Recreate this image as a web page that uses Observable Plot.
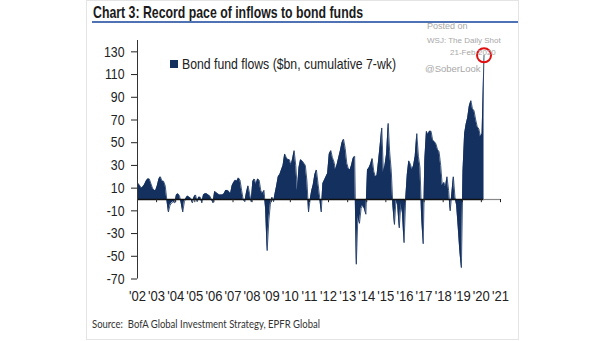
<!DOCTYPE html>
<html>
<head>
<meta charset="utf-8">
<script src="https://cdn.jsdelivr.net/npm/d3@7"></script>
<script src="https://cdn.jsdelivr.net/npm/@observablehq/plot@0.6"></script>
<style>
  html, body { margin: 0; padding: 0; background: #fff; }
  #wrap { position: relative; width: 605px; height: 341px; overflow: hidden; font-family: "Liberation Sans", Arial, sans-serif; }
  #chart { position: absolute; left: 0; top: 0; }
  .abs { position: absolute; white-space: nowrap; }
  .fit { transform-origin: 0 50%; }
  #frame { left: 86px; top: 0px; width: 431px; height: 338px; border: 1px solid #e4e4e4; }
  #title { left: 93px; top: 3px; font-weight: bold; font-size: 17px; line-height: 19px; color: #1b1b1b; }
  #rule { left: 92px; top: 21px; width: 426px; height: 2px; background: #4f72b5; }
  .wm { color: #a8a8a8; }
  #legend { left: 170px; top: 56px; font-size: 14.5px; line-height: 16px; color: #222; }
  #legend .sw { position: absolute; left: 0; top: 4px; width: 8px; height: 8px; background: #13305f; }
  #legtext { left: 12px; top: 0; }
  #source { left: 92px; top: 318px; font-family: Lato, "Open Sans", sans-serif; font-size: 10.5px; line-height: 13px; color: #333; }
</style>
</head>
<body>
<div id="wrap">
  <div id="frame" class="abs"></div>
  <div id="chart"></div>
  <div id="title" class="abs fit" data-w="270">Chart 3: Record pace of inflows to bond funds</div>
  <div id="rule" class="abs"></div>
  <div class="abs wm" style="left:427px;top:21px;font-size:9px;">Posted on</div>
  <div class="abs wm" style="left:427px;top:36px;font-size:8px;">WSJ: The Daily Shot</div>
  <div class="abs wm" style="left:450px;top:48px;font-size:8px;">21-Feb-2020</div>
  <div class="abs wm" style="left:425px;top:63px;font-size:9.5px;">@SoberLook</div>
  <div id="legend" class="abs"><span class="sw"></span><div id="legtext" class="abs fit" data-w="214">Bond fund flows ($bn, cumulative 7-wk)</div></div>
  <div id="source" class="abs fit" data-w="228">Source:&nbsp; BofA Global Investment Strategy, EPFR Global</div>
</div>
<script>
// Monthly readings of the cumulative 7-week bond fund flows ($bn), Jan..Dec
const years = [2002, 2003, 2004, 2005, 2006, 2007, 2008, 2009, 2010, 2011,
               2012, 2013, 2014, 2015, 2016, 2017, 2018, 2019, 2020];
const flows2002 = [14, 12, 10, 11, 13, 16, 18, 18, 14, 10, 8, 8];
const flows2003 = [12, 18, 20, 16, 16, 12, 0, -11, -5, -3, -2, -3];
const flows2004 = [4, 5, 3, -3, -11, -2, 1, 3, 2, 1, -3, 2];
const flows2005 = [4, -2, 2, 2, -3, 4, 5, 5, 4, 3, 0, -3];
const flows2006 = [7, 6, 5, 4, 4, 4, 5, 8, 8, 7, 5, 12];
const flows2007 = [15, 17, 16, 19, 17, 8, 0, -2, 6, 12, 5, -2];
const flows2008 = [16, 18, 13, 18, 17, 8, 5, 8, -8, -45, -19, -4];
const flows2009 = [2, -2, 5, 12, 20, 22, 26, 30, 40, 37, 35, 35];
const flows2010 = [30, 36, 43, 30, 8, 28, 35, 34, 32, 30, 16, -11];
const flows2011 = [0, 8, 13, 22, 26, 14, 2, -11, 14, 17, 20, 23];
const flows2012 = [40, 43, 37, 33, 26, 31, 37, 43, 50, 53, 45, 32];
const flows2013 = [27, 26, 30, 36, 38, -57, -15, -21, -8, -5, -8, -13];
const flows2014 = [26, 28, 31, 36, 25, 20, 21, 34, 48, 63, 24, 30];
const flows2015 = [40, 67, 42, 25, -5, -22, 0, -5, -25, -3, -12, -38];
const flows2016 = [0, 22, 34, 31, 26, 30, 38, 58, 38, 28, -15, -39];
const flows2017 = [35, 60, 57, 60, 60, 52, 51, 49, 44, 42, 30, 12];
const flows2018 = [15, 11, 20, 8, -10, 5, 20, 2, -5, -24, -45, -60];
const flows2019 = [25, 58, 66, 72, 82, 87, 80, 78, 70, 64, 62, 55];
const flows2020 = [58];
const flowsByYear = [flows2002, flows2003, flows2004, flows2005, flows2006, flows2007,
  flows2008, flows2009, flows2010, flows2011, flows2012, flows2013, flows2014,
  flows2015, flows2016, flows2017, flows2018, flows2019, flows2020];
// Last reading: week to 21 Feb 2020
const lastReading = {date: "2020-02-21", value: 127};
const yTicks = [-70, -50, -30, -10, 10, 30, 50, 70, 90, 110, 130];
const xTickYears = [2002, 2003, 2004, 2005, 2006, 2007, 2008, 2009, 2010, 2011,
  2012, 2013, 2014, 2015, 2016, 2017, 2018, 2019, 2020, 2021];

const data = [];
years.forEach((y, i) => {
  flowsByYear[i].forEach((v, m) => data.push({date: new Date(Date.UTC(y, m, 15)), value: v}));
});
const last = {date: new Date(lastReading.date + "T00:00:00Z"), value: lastReading.value};
data.push(last);

const yearDate = y => new Date(Date.UTC(y, 0, 1));
const xStart = yearDate(xTickYears[0]);
const xEnd = yearDate(xTickYears[xTickYears.length - 1]);
const navy = "#13305f";

const chart = Plot.plot({
  width: 605,
  height: 341,
  marginLeft: 137,
  marginRight: 105,
  marginTop: 40,
  marginBottom: 62.5,
  style: {fontFamily: '"Liberation Sans", Arial, sans-serif', fontSize: "14.5px", color: "#222", background: "transparent"},
  x: {type: "utc", domain: [xStart, xEnd]},
  y: {domain: [-70, 140]},
  marks: [
    Plot.areaY(data, {x: "date", y: "value", fill: navy, curve: "linear"}),
    Plot.lineY(data, {x: "date", y: "value", stroke: navy, strokeWidth: 0.8, curve: "linear"}),
    Plot.ruleY([0], {x1: xStart, x2: last.date, stroke: "#111", strokeWidth: 1.6}),
    Plot.ruleY([0], {x1: last.date, x2: xEnd, stroke: "#888", strokeWidth: 1.2}),
    Plot.ruleX(xTickYears.map(yearDate), {y1: 0, y2: -2.8, stroke: "#222", strokeWidth: 1}),
    Plot.ruleX([xStart], {y1: -70, y2: 140, stroke: "#333", strokeWidth: 1}),
    Plot.axisY({ticks: yTicks, tickSize: 6, tickPadding: 7, label: null, tickFormat: d => String(d)}),
    Plot.axisX({ticks: xTickYears.map(yearDate), tickSize: 0, tickPadding: 12, label: null,
      tickFormat: d => "'" + String(d.getUTCFullYear()).slice(2)}),
    Plot.dot([last], {x: "date", y: "value", r: 7, stroke: "#e01010", strokeWidth: 2, fill: "none"})
  ]
});
document.getElementById("chart").appendChild(chart);

// narrow the tick labels (the original uses a condensed face)
chart.querySelectorAll('g[aria-label="y-axis tick label"] text').forEach(t => {
  t.setAttribute("transform", (t.getAttribute("transform") || "") + " scale(0.85,1)");
});
chart.querySelectorAll('g[aria-label="x-axis tick label"] text').forEach(t => {
  t.setAttribute("transform", (t.getAttribute("transform") || "") + " scale(0.9,1)");
});
// fit HTML texts to the widths they occupy in the reference
document.querySelectorAll(".fit").forEach(el => {
  const w = el.getBoundingClientRect().width;
  const target = +el.dataset.w;
  if (w > 0) el.style.transform = `scaleX(${target / w})`;
});
</script>
</body>
</html>
